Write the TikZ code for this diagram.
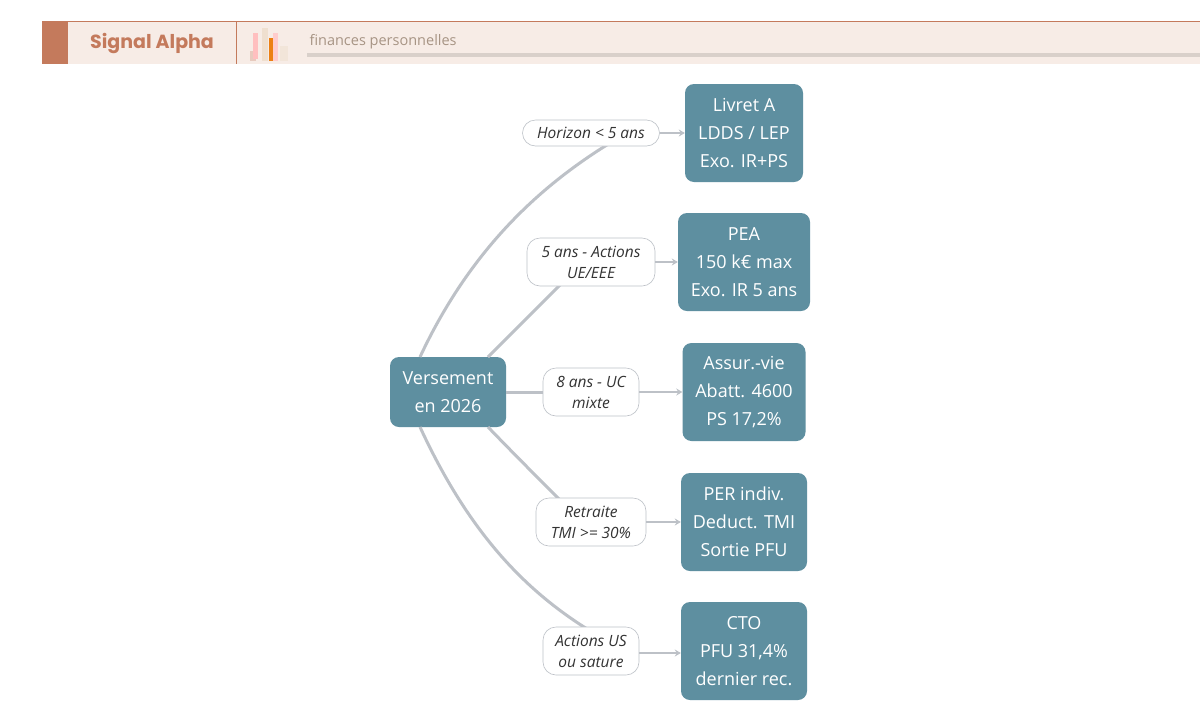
\documentclass[tikz,border=0pt]{standalone}
\usepackage{fontspec}
\setmainfont{Open Sans}
\newfontfamily\pop{Poppins}
\usetikzlibrary{arrows.meta}
\definecolor{teal}{HTML}{5E8FA0}
\definecolor{band}{HTML}{F7ECE6}
\definecolor{rust}{HTML}{C47A5C}
\definecolor{edge}{HTML}{BDC1C7}
\begin{document}
\begin{tikzpicture}[x=1pt,y=-1pt,
 box/.style={fill=teal,rounded corners=9pt,text=white,align=center,font=\fontsize{18}{28}\selectfont,inner sep=0pt},
 lab/.style={fill=white,draw=edge,line width=0.6pt,rounded corners=13pt,align=center,font=\fontsize{15.5}{21}\selectfont\itshape,inner sep=0pt,text=black!80},
 br/.style={draw=edge,line width=3pt},
 ar/.style={draw=edge,line width=2.5pt,-{Stealth[length=6pt,width=7pt]}}]
\useasboundingbox (0,0) rectangle (1200,721);
\fill[white] (0,0) rectangle (1200,721);
% header
\fill[band] (42,21) rectangle (1200,64);
\draw[rust,line width=0.8pt] (42,21) -- (1200,21);
\fill[rust] (42,21) rectangle (68,64);
\draw[rust,line width=0.8pt] (236,21) -- (236,64);
\node[font=\pop\bfseries\fontsize{19}{22}\selectfont,text=rust] (brand) at (152,43) {Signal Alpha};
\node[anchor=west,font=\fontsize{14.5}{16}\selectfont,text=black!35!band!80!brown] (sub) at (306,42) {finances personnelles};
\fill[black!12!band] (307,53) rectangle (1200,57);
\fill[rust!40] (250,51) rectangle (256,61);
\fill[red!25] (253,33) rectangle (258,59);
\fill[brown!25] (262,28) rectangle (268,61);
\fill[orange!70!brown] (269,38) rectangle (273,61);
\fill[red!20] (273,33) rectangle (278,61);
\fill[brown!20] (280,46) rectangle (288,61);
% nodes
\node[box,minimum width=116,minimum height=70] (v) at (448,392) {Versement\\en 2026};
\node[box,minimum width=118,minimum height=98] (t1) at (744,133) {Livret A\\LDDS / LEP\\Exo. IR+PS};
\node[box,minimum width=132,minimum height=98] (t2) at (744,262) {PEA\\150 k€ max\\Exo. IR 5 ans};
\node[box,minimum width=123,minimum height=98] (t3) at (744,392) {Assur.-vie\\Abatt. 4600\\PS 17,2\%};
\node[box,minimum width=126,minimum height=98] (t4) at (744,522) {PER indiv.\\Deduct. TMI\\Sortie PFU};
\node[box,minimum width=126,minimum height=98] (t5) at (744,651) {CTO\\PFU 31,4\%\\dernier rec.};
% branches
\coordinate (s1) at (420,357); \coordinate (s2) at (488,357);
\coordinate (s4) at (488,427); \coordinate (s5) at (420,427);
\draw[br] (s1) .. controls (470,250) and (540,185) .. (615,140);
\draw[br] (s2) .. controls (515,330) and (540,305) .. (565,280);
\draw[br] (v.east) -- (550,392);
\draw[br] (s4) .. controls (515,455) and (540,480) .. (565,505);
\draw[br] (s5) .. controls (470,535) and (530,600) .. (615,645);
\node[lab,minimum width=137,minimum height=26] (l1) at (591,133) {Horizon < 5 ans};
\node[lab,minimum width=128,minimum height=48] (l2) at (591,262) {5 ans - Actions\\UE/EEE};
\node[lab,minimum width=96,minimum height=48] (l3) at (591,392) {8 ans - UC\\mixte};
\node[lab,minimum width=110,minimum height=48] (l4) at (591,522) {Retraite\\TMI >= 30\%};
\node[lab,minimum width=96,minimum height=48] (l5) at (591,651) {Actions US\\ou sature};
\draw[ar] (l1) -- (t1);
\draw[ar] (l2) -- (t2);
\draw[ar] (l3) -- (t3);
\draw[ar] (l4) -- (t4);
\draw[ar] (l5.east) ++(0,2) -- (t5.west|-{0,653});
\end{tikzpicture}
\end{document}
